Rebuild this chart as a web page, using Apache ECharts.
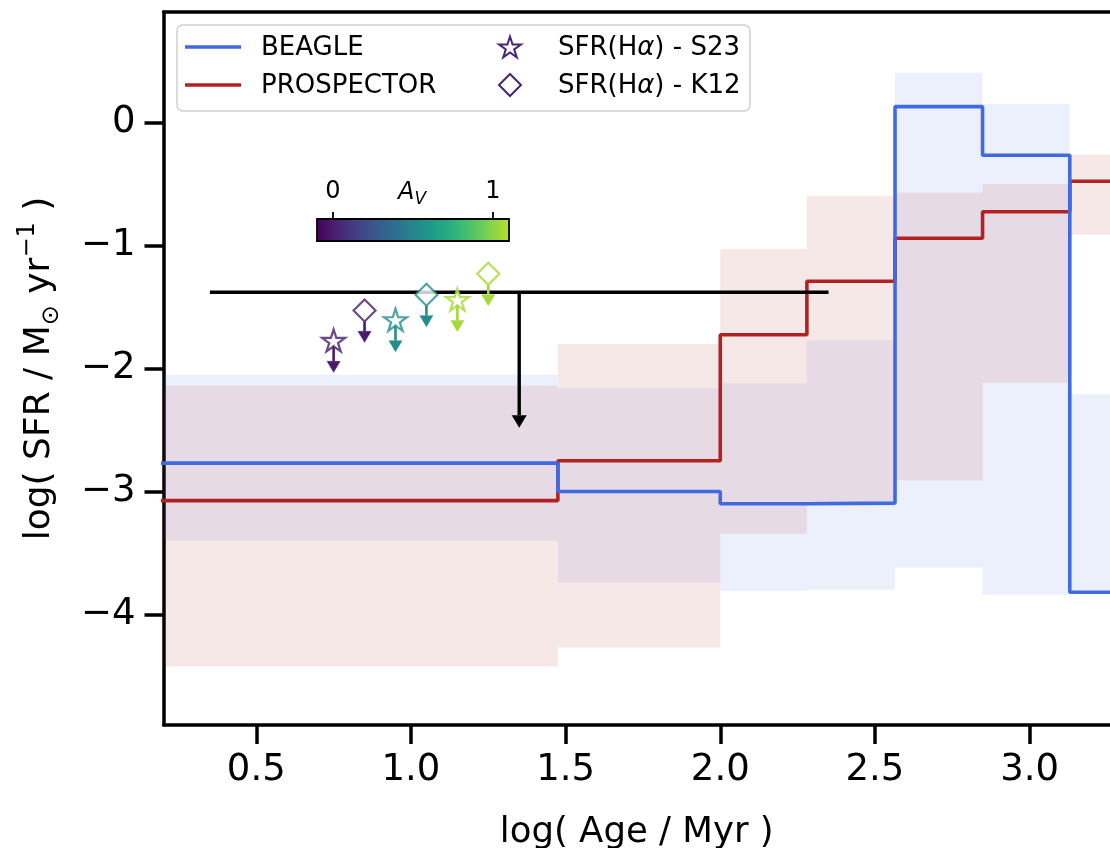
<!DOCTYPE html>
<html>
<head>
<meta charset="utf-8">
<script src="https://cdn.jsdelivr.net/npm/echarts@6/dist/echarts.min.js"></script>
<style>
html,body{margin:0;padding:0;background:#fff;}
#chart{width:1110px;height:848px;}
</style>
</head>
<body>
<div id="chart"></div>
<script>
// ---------------- DATA ----------------
const binEdges = [0.0, 1.475, 2.0, 2.28, 2.565, 2.848, 3.13, 3.5];
const beagleMedian = [-2.77, -3.00, -3.10, -3.095, 0.13, -0.265, -3.82];
const beagleLow    = [-3.40, -3.74, -3.81, -3.80, -3.62, -3.84, -3.82];
const beagleHigh   = [-2.05, -2.16, -2.12, -1.77, 0.405, 0.153, -2.21];
const prospMedian  = [-3.075, -2.75, -1.725, -1.29, -0.94, -0.725, -0.477];
const prospLow     = [-4.425, -4.27, -3.345, -3.09, -2.91, -2.115, -0.912];
const prospHigh    = [-2.14, -1.80, -1.027, -0.595, -0.571, -0.50, -0.262];

const s23X  = [0.75, 0.95, 1.15];
const s23Y  = [-1.772, -1.604, -1.44];
const s23Av = [0.0, 0.55, 1.05];
const k12X  = [0.85, 1.05, 1.25];
const k12Y  = [-1.528, -1.40, -1.23];
const k12Av = [0.0, 0.55, 1.05];
const haLimitLen = 0.17;

const ageLimitX = [1.35];
const ageLimitY = [-1.38];
const ageLimitXErr = [1.0];
const ageLimitYErr = [1.0];

const xTicks = [0.5, 1.0, 1.5, 2.0, 2.5, 3.0];
const yTicks = [-4, -3, -2, -1, 0];
const avTicks = [0, 1];
const avRange = [-0.1, 1.1];

// ---------------- HELPERS ----------------
const VIRIDIS = ['#440154','#482475','#414487','#355f8d','#2a788e','#21918c','#22a884','#44bf70','#7ad151','#bddf26','#fde725'];
const CMAP_TOP = 0.9;
function hex2rgb(h){return [parseInt(h.substr(1,2),16),parseInt(h.substr(3,2),16),parseInt(h.substr(5,2),16)];}
function viridis(t){
  t = Math.max(0, Math.min(1, t));
  const f = t*10, i = Math.min(9, Math.floor(f)), r = f - i;
  const a = hex2rgb(VIRIDIS[i]), b = hex2rgb(VIRIDIS[i+1]);
  const c = a.map((v,k)=>Math.round(v + (b[k]-v)*r));
  return 'rgb(' + c.join(',') + ')';
}
function avColor(av){ return viridis((av - avRange[0])/(avRange[1]-avRange[0]) * CMAP_TOP); }

function starPts(cx, cy, R){
  const pts = [];
  for (let k = 0; k < 10; k++){
    const ang = (-90 + k*36) * Math.PI/180;
    const r = (k % 2 === 0) ? R : R*0.381966;
    pts.push([cx + r*Math.cos(ang), cy + r*Math.sin(ang)]);
  }
  return pts;
}
const starPath = 'path://' + starPts(0,0,1).map((p,i)=>(i?'L':'M')+p[0].toFixed(4)+' '+p[1].toFixed(4)).join(' ') + ' Z';

const FONT = 'DejaVu Sans';

function bandRender(color){
  return function(params, api){
    const p0 = api.coord([api.value(0), api.value(3)]);
    const p1 = api.coord([api.value(1), api.value(2)]);
    const cs = params.coordSys;
    const r = echarts.graphic.clipRectByRect(
      {x:p0[0], y:p0[1], width:p1[0]-p0[0], height:p1[1]-p0[1]},
      {x:cs.x, y:cs.y, width:cs.width, height:cs.height});
    if (!r) return;
    return {type:'rect', shape:r, style:{fill:color}};
  };
}
function bandData(lo, hi){ return lo.map((v,i)=>[binEdges[i], binEdges[i+1], v, hi[i]]); }
function stepData(med){ return binEdges.map((e,i)=>[e, med[Math.min(i, med.length-1)]]); }

function limitArrowRender(startOffset){
  return function(params, api){
    const x = api.value(0), y = api.value(1), c = avColor(api.value(2));
    const p0 = api.coord([x, y]);
    const p1 = api.coord([x, y - haLimitLen]);
    const hw = 6.5, hh = 11;
    return {type:'group', children:[
      {type:'line', shape:{x1:p0[0], y1:p0[1] + startOffset, x2:p1[0], y2:p1[1]}, style:{stroke:c, lineWidth:2.6}},
      {type:'polygon', shape:{points:[[p1[0]-hw,p1[1]],[p1[0]+hw,p1[1]],[p1[0],p1[1]+hh]]}, style:{fill:c, stroke:c, lineWidth:0.5}}
    ]};
  };
}
function ageLimitRender(params, api){
  const x = api.value(0), y = api.value(1), xe = api.value(2), ye = api.value(3);
  const a = api.coord([x - xe, y]), b = api.coord([x + xe, y]);
  const c0 = api.coord([x, y]), c1 = api.coord([x, y - ye]);
  const hw = 7.5, hh = 12.5;
  return {type:'group', children:[
    {type:'line', shape:{x1:a[0], y1:a[1], x2:b[0], y2:b[1]}, style:{stroke:'#000', lineWidth:3.4}},
    {type:'line', shape:{x1:c0[0], y1:c0[1], x2:c1[0], y2:c1[1]}, style:{stroke:'#000', lineWidth:3.4}},
    {type:'polygon', shape:{points:[[c1[0]-hw,c1[1]],[c1[0]+hw,c1[1]],[c1[0],c1[1]+hh]]}, style:{fill:'#000'}}
  ]};
}

function markerData(xs, ys, avs){
  return xs.map((x,i)=>({value:[x, ys[i], avs[i]],
    itemStyle:{color:'#fff', borderColor:avColor(avs[i]), borderWidth:2.2}}));
}

// ---------------- LEGEND / COLORBAR GRAPHICS ----------------
const legendColor = viridis(0.1);
const cbX = 317, cbY = 219, cbW = 192, cbH = 22;
const cbStops = [];
for (let i = 0; i <= 20; i++){ cbStops.push({offset:i/20, color:viridis(i/20*CMAP_TOP)}); }
const graphics = [
  {type:'rect', shape:{x:177, y:25, width:573, height:86, r:6},
   style:{fill:'rgba(255,255,255,0.85)', stroke:'#d0d0d0', lineWidth:1.5}, z:100},
  {type:'line', shape:{x1:185, y1:47, x2:241, y2:47}, style:{stroke:'#4169e1', lineWidth:3.5}, z:101},
  {type:'line', shape:{x1:185, y1:85, x2:241, y2:85}, style:{stroke:'#b22222', lineWidth:3.5}, z:101},
  {type:'text', x:261, y:48, style:{text:'BEAGLE', font:'26px "DejaVu Sans"', fill:'#000', verticalAlign:'middle'}, z:101},
  {type:'text', x:261, y:86, style:{text:'PROSPECTOR', font:'26px "DejaVu Sans"', fill:'#000', verticalAlign:'middle'}, z:101},
  {type:'polygon', shape:{points:starPts(510, 48, 11.5)}, style:{fill:'#fff', stroke:legendColor, lineWidth:2}, z:101},
  {type:'polygon', shape:{points:[[510,74],[521,85],[510,96],[499,85]]}, style:{fill:'#fff', stroke:legendColor, lineWidth:2}, z:101},
  {type:'text', x:558, y:48, style:{text:'SFR(H{i|α}) - S23', fontFamily:FONT, fontSize:26, fill:'#000', verticalAlign:'middle',
     rich:{i:{fontFamily:FONT, fontSize:26, fontStyle:'italic'}}}, z:101},
  {type:'text', x:558, y:86, style:{text:'SFR(H{i|α}) - K12', fontFamily:FONT, fontSize:26, fill:'#000', verticalAlign:'middle',
     rich:{i:{fontFamily:FONT, fontSize:26, fontStyle:'italic'}}}, z:101},
  {type:'rect', shape:{x:cbX, y:cbY, width:cbW, height:cbH},
   style:{fill:new echarts.graphic.LinearGradient(0,0,1,0,cbStops), stroke:'#000', lineWidth:1.8}, z:90}
];
avTicks.forEach(av=>{
  const tx = cbX + (av - avRange[0])/(avRange[1]-avRange[0]) * cbW;
  graphics.push({type:'line', shape:{x1:tx, y1:cbY-7, x2:tx, y2:cbY}, style:{stroke:'#000', lineWidth:1.8}, z:90});
  graphics.push({type:'text', x:tx, y:192, style:{text:String(av), font:'24px "DejaVu Sans"', fill:'#000', align:'center', verticalAlign:'middle'}, z:90});
});
graphics.push({type:'text', x:412, y:193, style:{text:'{a|A}{v|V}', fill:'#000', align:'center', verticalAlign:'middle',
  rich:{a:{fontFamily:FONT, fontSize:24, fontStyle:'italic', lineHeight:30, verticalAlign:'middle'},
        v:{fontFamily:FONT, fontSize:17, fontStyle:'italic', lineHeight:30, verticalAlign:'bottom'}}}, z:90});

// ---------------- OPTION ----------------
const X_MIN = 0.2, X_MAX = 3.26, Y_MIN = -4.9, Y_MAX = 0.9;
const option = {
  animation:false,
  backgroundColor:'#fff',
  grid:{left:163.5, top:12, width:946.5, height:713, show:false, containLabel:false, outerBoundsMode:'none'},
  xAxis:[{
    type:'value', min:X_MIN, max:X_MAX, position:'bottom',
    name:'log( Age / Myr )', nameLocation:'middle', nameGap:90,
    nameTextStyle:{fontFamily:FONT, fontSize:35.5, color:'#000'},
    axisLine:{show:true, onZero:false, lineStyle:{color:'#000', width:3.5}},
    splitLine:{show:false},
    axisTick:{show:true, inside:false, length:19, customValues:xTicks, lineStyle:{color:'#000', width:3.5}},
    axisLabel:{customValues:xTicks, formatter:v=>Number(v).toFixed(1), fontFamily:FONT, fontSize:37, color:'#000', margin:27}
  },{
    type:'value', min:X_MIN, max:X_MAX, position:'top',
    axisLine:{show:true, onZero:false, lineStyle:{color:'#000', width:3.5}},
    axisTick:{show:false}, axisLabel:{show:false}, splitLine:{show:false}
  }],
  yAxis:{
    type:'value', min:Y_MIN, max:Y_MAX,
    name:'log( SFR / M{sub|⊙} yr{sup|−1} )', nameLocation:'middle', nameGap:100, nameRotate:90,
    nameTextStyle:{fontFamily:FONT, fontSize:36, color:'#000', lineHeight:48,
      rich:{sub:{fontFamily:FONT, fontSize:24, lineHeight:24, verticalAlign:'bottom', color:'#000'},
            sup:{fontFamily:FONT, fontSize:24, lineHeight:24, verticalAlign:'top', color:'#000'}}},
    axisLine:{show:true, onZero:false, lineStyle:{color:'#000', width:3.5}},
    splitLine:{show:false},
    axisTick:{show:true, inside:false, length:19, customValues:yTicks, lineStyle:{color:'#000', width:3.5}},
    axisLabel:{customValues:yTicks, formatter:v=>(v<0?'\u2212':'')+Math.abs(v), fontFamily:FONT, fontSize:37, color:'#000', margin:28}
  },
  graphic:graphics,
  series:[
    {type:'custom', name:'BEAGLE band', data:bandData(beagleLow, beagleHigh), renderItem:bandRender('rgba(65,105,225,0.1)'),
     encode:{x:[0,1], y:[2,3]}, z:1, silent:true},
    {type:'custom', name:'PROSPECTOR band', data:bandData(prospLow, prospHigh), renderItem:bandRender('rgba(178,34,34,0.1)'),
     encode:{x:[0,1], y:[2,3]}, z:1, silent:true},
    {type:'line', name:'PROSPECTOR', data:stepData(prospMedian), step:'end', showSymbol:false, symbol:'none',
     lineStyle:{color:'#b22222', width:3.6}, z:3, silent:true},
    {type:'line', name:'BEAGLE', data:stepData(beagleMedian), step:'end', showSymbol:false, symbol:'none',
     lineStyle:{color:'#4169e1', width:3.6}, z:4, silent:true},
    {type:'custom', name:'age limit', data:ageLimitX.map((x,i)=>[x, ageLimitY[i], ageLimitXErr[i], ageLimitYErr[i]]),
     renderItem:ageLimitRender, encode:{x:0, y:1}, z:5, silent:true},
    {type:'custom', name:'S23 limits', data:s23X.map((x,i)=>[x, s23Y[i], s23Av[i]]), renderItem:limitArrowRender(4), encode:{x:0,y:1}, z:6, silent:true},
    {type:'custom', name:'K12 limits', data:k12X.map((x,i)=>[x, k12Y[i], k12Av[i]]), renderItem:limitArrowRender(11), encode:{x:0,y:1}, z:6, silent:true},
    {type:'scatter', name:'SFR(Hα) - S23', data:markerData(s23X, s23Y, s23Av), symbol:starPath, symbolSize:[23,22], z:7, silent:true},
    {type:'scatter', name:'SFR(Hα) - K12', data:markerData(k12X, k12Y, k12Av), symbol:'diamond', symbolSize:[22,22], z:7, silent:true}
  ]
};
const chart = echarts.init(document.getElementById('chart'), null, {renderer:'canvas'});
chart.setOption(option);
</script>
</body>
</html>
